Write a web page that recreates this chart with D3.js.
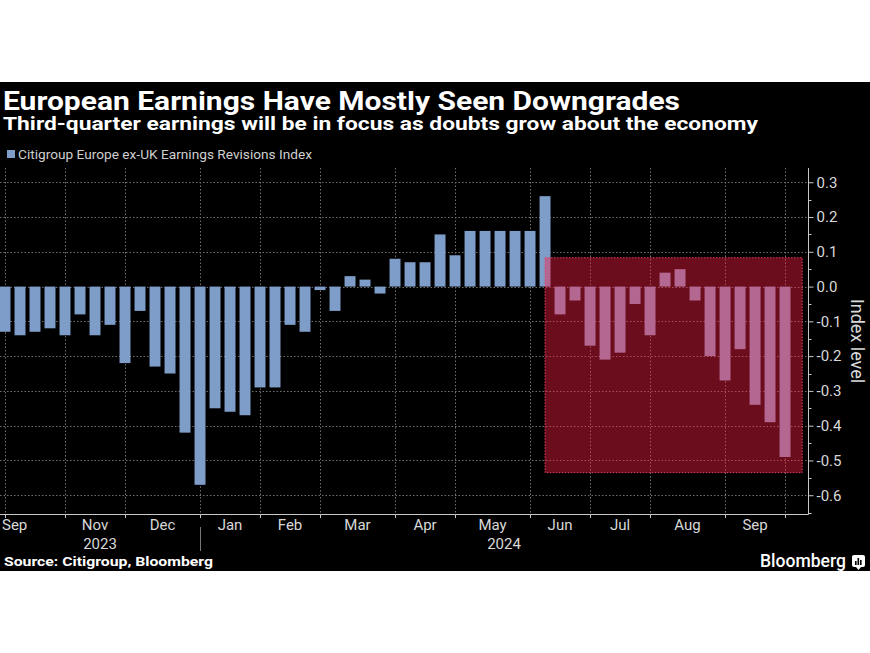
<!DOCTYPE html>
<html>
<head>
<meta charset="utf-8">
<script src="https://cdn.jsdelivr.net/npm/d3@7"></script>
<style>
  html, body { margin: 0; padding: 0; background: #fff; }
  svg { display: block; }
</style>
</head>
<body>
<svg id="chart" width="870" height="653"></svg>
<script>
// ---- data ----
const weekDates = [
  "2023-10-06","2023-10-13","2023-10-20","2023-10-27",
  "2023-11-03","2023-11-10","2023-11-17","2023-11-24",
  "2023-12-01","2023-12-08","2023-12-15","2023-12-22","2023-12-29",
  "2024-01-05","2024-01-12","2024-01-19","2024-01-26",
  "2024-02-02","2024-02-09","2024-02-16","2024-02-23",
  "2024-03-01","2024-03-08","2024-03-15","2024-03-22","2024-03-29",
  "2024-04-05","2024-04-12","2024-04-19","2024-04-26",
  "2024-05-03","2024-05-10","2024-05-17","2024-05-24","2024-05-31",
  "2024-06-07","2024-06-14","2024-06-21","2024-06-28",
  "2024-07-05","2024-07-12","2024-07-19","2024-07-26",
  "2024-08-02","2024-08-09","2024-08-16","2024-08-23","2024-08-30",
  "2024-09-06","2024-09-13","2024-09-20","2024-09-27",
  "2024-10-04"
];
const revisionValues = [
  -0.13,-0.14,-0.13,-0.12,
  -0.14,-0.08,-0.14,-0.11,
  -0.22,-0.07,-0.23,-0.25,-0.42,
  -0.57,-0.35,-0.36,-0.37,
  -0.29,-0.29,-0.11,-0.13,
  -0.01,-0.07,0.03,0.02,-0.02,
  0.08,0.07,0.07,0.15,
  0.09,0.16,0.16,0.16,0.16,
  0.16,0.26,-0.08,-0.04,
  -0.17,-0.21,-0.19,-0.05,
  -0.14,0.04,0.05,-0.04,-0.20,
  -0.27,-0.18,-0.34,-0.39,
  -0.49
];
const yTickValues = [0.3,0.2,0.1,0.0,-0.1,-0.2,-0.3,-0.4,-0.5,-0.6];
const firstMonthLabel = "Sep";   // partial month at the left edge
const skippedMonthLabels = ["Oct"]; // dropped for overlap
const yearLabels = ["2023","2024"];
const highlightDates = ["2024-06-14","2024-10-12"];
const highlightValues = [0.083,-0.535];

const title = "European Earnings Have Mostly Seen Downgrades";
const subtitle = "Third-quarter earnings will be in focus as doubts grow about the economy";
const legendLabel = "Citigroup Europe ex-UK Earnings Revisions Index";
const sourceText = "Source: Citigroup, Bloomberg";
const yAxisTitle = "Index level";

// ---- setup ----
const parse = d3.timeParse("%Y-%m-%d");
const data = weekDates.map((d,i) => ({date: parse(d), value: revisionValues[i]}));

const W = 870, H = 653;
const plot = {left: 0, right: 808, top: 168, bottom: 514};
const blue = "#7f9dc9";
const font = "Roboto, 'Open Sans', sans-serif";

const svg = d3.select("#chart");
svg.append("rect").attr("x",0).attr("y",82).attr("width",W).attr("height",571-82).attr("fill","#000");

const firstDate = data[0].date, lastDate = data[data.length-1].date;
const x = d3.scaleTime()
  .domain([d3.timeHour.offset(firstDate,-56), d3.timeHour.offset(lastDate,257.6)])
  .range([plot.left, plot.right]);
const y = d3.scaleLinear().domain([-0.654, 0.341]).range([plot.bottom, plot.top]);

// titles
svg.append("text").attr("x",3).attr("y",110).text(title)
  .attr("font-family",font).attr("font-weight","bold").attr("font-size",25)
  .attr("fill","#fff").attr("textLength",677).attr("lengthAdjust","spacingAndGlyphs");
svg.append("text").attr("x",3).attr("y",130).text(subtitle)
  .attr("font-family",font).attr("font-weight","bold").attr("font-size",17.5)
  .attr("fill","#fff").attr("textLength",755).attr("lengthAdjust","spacingAndGlyphs");

// legend
svg.append("rect").attr("x",7).attr("y",150).attr("width",8).attr("height",8).attr("fill",blue);
svg.append("text").attr("x",18).attr("y",159).text(legendLabel)
  .attr("font-family",font).attr("font-size",13).attr("fill","#cfcfcf")
  .attr("textLength",294).attr("lengthAdjust","spacingAndGlyphs");

// clip
svg.append("defs").append("clipPath").attr("id","clip")
  .append("rect").attr("x",plot.left).attr("y",plot.top)
  .attr("width",plot.right-plot.left).attr("height",plot.bottom-plot.top);

const g = svg.append("g");

// month ticks: first week of each month
const monthTicks = data.filter((d,i) => i===0 || d.date.getMonth() !== data[i-1].date.getMonth()).map(d=>d.date);

// gridlines
const grid = g.append("g").attr("stroke","#707070").attr("stroke-width",1).attr("stroke-dasharray","1.5,2");
grid.selectAll("line.h").data(yTickValues).join("line")
  .attr("x1",plot.left).attr("x2",plot.right)
  .attr("y1",d=>Math.round(y(d))+0.5).attr("y2",d=>Math.round(y(d))+0.5);
grid.selectAll("line.v").data(monthTicks).join("line")
  .attr("y1",plot.top).attr("y2",plot.bottom)
  .attr("x1",d=>Math.round(x(d))+0.5).attr("x2",d=>Math.round(x(d))+0.5);

// bars
const step = x(data[1].date) - x(data[0].date);
const bw = step*0.73;
g.append("g").attr("clip-path","url(#clip)")
  .selectAll("rect").data(data).join("rect")
  .attr("x",d=>x(d.date)-bw/2).attr("width",bw)
  .attr("y",d=>y(Math.max(0,d.value)))
  .attr("height",d=>Math.abs(y(d.value)-y(0)))
  .attr("fill",blue);

// highlight overlay
const hx0 = x(parse(highlightDates[0])), hx1 = x(parse(highlightDates[1]));
const hy0 = y(highlightValues[0]), hy1 = y(highlightValues[1]);
g.append("rect").attr("x",hx0).attr("y",hy0).attr("width",hx1-hx0).attr("height",hy1-hy0)
  .attr("fill","#ff1e46").attr("fill-opacity",0.42)
  .attr("stroke","#e8405e").attr("stroke-width",1).attr("stroke-dasharray","1.5,1.5");

// x axis line
const axisColor = "#c8c8c8";
g.append("line").attr("x1",plot.left).attr("x2",plot.right+0.5)
  .attr("y1",plot.bottom+0.5).attr("y2",plot.bottom+0.5).attr("stroke",axisColor);
g.selectAll("line.xt").data(monthTicks).join("line")
  .attr("x1",d=>Math.round(x(d))+0.5).attr("x2",d=>Math.round(x(d))+0.5)
  .attr("y1",plot.bottom).attr("y2",plot.bottom+4).attr("stroke",axisColor);

// month labels centered between ticks
const labelG = g.append("g").attr("font-family",font).attr("font-size",15).attr("fill","#d8d8d8");
const fmtMonth = d3.timeFormat("%b");
const intervals = [];
for (let i=0;i<monthTicks.length-1;i++) intervals.push([monthTicks[i], monthTicks[i+1]]);
labelG.append("text").attr("x",plot.left+2).attr("y",530).text(firstMonthLabel);
labelG.selectAll("text.m").data(intervals.filter(iv => !skippedMonthLabels.includes(fmtMonth(iv[0])))).join("text")
  .attr("x",d=>(x(d[0])+x(d[1]))/2).attr("y",530).attr("text-anchor","middle")
  .text(d=>fmtMonth(d[0]));

// year labels
const jan = monthTicks.find(d=>d.getMonth()===0);
const yearSpans = [[plot.left, x(jan)], [x(jan), plot.right]];
labelG.selectAll("text.y").data(yearLabels).join("text")
  .attr("x",(d,i)=>(yearSpans[i][0]+yearSpans[i][1])/2).attr("y",549).attr("text-anchor","middle")
  .text(d=>d);
g.append("line").attr("x1",Math.round(x(jan))+0.5).attr("x2",Math.round(x(jan))+0.5)
  .attr("y1",527).attr("y2",551).attr("stroke","#777");

// right y axis
const yAxis = d3.axisRight(y).tickValues(yTickValues).tickSize(5).tickPadding(3)
  .tickFormat(d=>d.toFixed(1));
const ya = svg.append("g").attr("transform",`translate(${plot.right+0.5},0)`).call(yAxis);
ya.select(".domain").attr("stroke",axisColor).attr("d",`M0,${plot.top}V${plot.bottom+0.5}`);
ya.selectAll(".tick line").attr("stroke",axisColor);
ya.selectAll(".tick text").attr("fill","#d8d8d8").attr("font-family",font).attr("font-size",15);
const minor = y.ticks(20).filter(v => !yTickValues.some(t=>Math.abs(t-v)<1e-9));
ya.selectAll("line.minor").data(minor).join("line")
  .attr("x1",0).attr("x2",3).attr("y1",d=>Math.round(y(d))+0.5).attr("y2",d=>Math.round(y(d))+0.5)
  .attr("stroke",axisColor);

// y axis title
svg.append("text").attr("transform",`translate(851,${(plot.top+plot.bottom)/2}) rotate(90)`)
  .attr("text-anchor","middle").text(yAxisTitle)
  .attr("font-family",font).attr("font-size",18).attr("fill","#d8d8d8");

// footer
svg.append("text").attr("x",4).attr("y",566).text(sourceText)
  .attr("font-family",font).attr("font-weight","bold").attr("font-size",13.5).attr("fill","#fff")
  .attr("textLength",209).attr("lengthAdjust","spacingAndGlyphs");
svg.append("text").attr("x",846).attr("y",567).attr("text-anchor","end").text("Bloomberg")
  .attr("font-family",font).attr("font-weight",500).attr("font-size",18).attr("fill","#fff")
  .attr("textLength",86).attr("lengthAdjust","spacingAndGlyphs");
const icon = svg.append("g").attr("transform","translate(852,555)");
icon.append("rect").attr("width",13).attr("height",12).attr("rx",2).attr("fill","#fff");
icon.append("path").attr("d","M4,12 L6.5,15 L9,12 Z").attr("fill","#fff");
[[3,6],[5.5,3],[8,5]].forEach(([bx,by]) =>
  icon.append("rect").attr("x",bx).attr("y",by).attr("width",1.6).attr("height",10-by).attr("fill","#000"));
</script>
</body>
</html>
